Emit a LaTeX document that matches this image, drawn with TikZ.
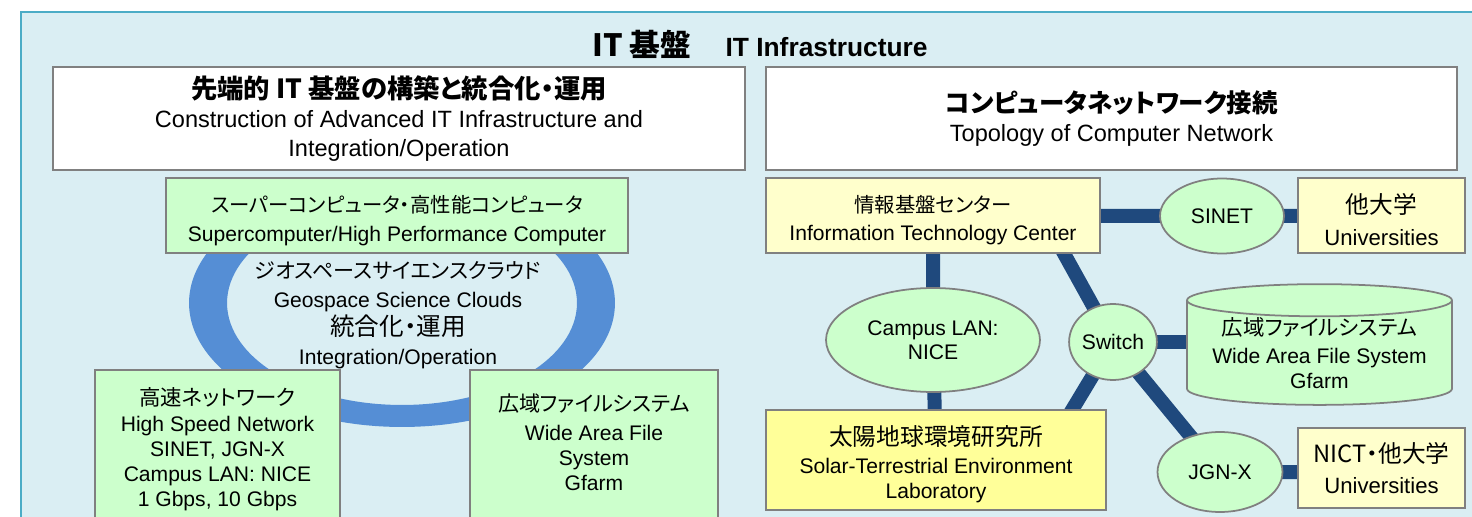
\documentclass[tikz,border=0pt]{standalone}
\usepackage{fontspec}
\setmainfont{Liberation Sans}
\newfontfamily\jp[RawFeature=+palt]{Noto Sans CJK JP}
\usepackage{tikz}
\usetikzlibrary{calc,shapes.geometric,backgrounds}

\definecolor{panelbg}{HTML}{DAEEF3}
\definecolor{panelline}{HTML}{4BACC6}
\definecolor{boxgreen}{HTML}{CCFFCC}
\definecolor{boxcream}{HTML}{FFFFCC}
\definecolor{boxyellow}{HTML}{FFFF99}
\definecolor{boxline}{HTML}{808080}
\definecolor{ringblue}{HTML}{558ED5}
\definecolor{linkblue}{HTML}{1F497D}

\newcommand{\fsz}[2]{\fontsize{#1}{#2}\selectfont}
\newcommand{\lowerby}[1]{\rule{0pt}{#1}}

\begin{document}
\begin{tikzpicture}[x=0.02cm,y=-0.02cm]
% Box style
\tikzset{
    box/.style={draw=boxline, line width=1pt, align=center, inner sep=0pt, font={\fsz{12}{14.2}}},
    wbox/.style={box, fill=white},
    gbox/.style={box, fill=boxgreen},
    ybox/.style={box, fill=boxcream},
    oval/.style={box, ellipse, fill=boxgreen},
    link/.style={linkblue, line width=0.28cm}
}
\useasboundingbox (0,0) rectangle (1472,517);
\clip (0,0) rectangle (1472,517);

% Title
\node (title) at (760,44) {\fsz{15}{18}\bfseries{\jp\fsz{17.5}{18}IT 基盤}\hspace{1.3em}IT Infrastructure};

% Left side
\node[wbox, minimum width=13.84cm, minimum height=2.06cm, font={\fsz{13.4}{16.4}}] (build) at (399,118.5)
    {{\jp\bfseries\fsz{15}{16.4}先端的 IT 基盤の構築と統合化・運用}\\Construction of Advanced IT Infrastructure and\\Integration/Operation};
\node[gbox, minimum width=9.24cm, minimum height=1.5cm] (super) at (397,215.5)
    {{\jp\fsz{11.6}{16}\lowerby{15.5pt}スーパーコンピュータ・高性能コンピュータ}\\[2.2pt]Supercomputer/High Performance Computer};
\node[align=center, font={\fsz{12}{16.3}}] (cloud) at (398,315)
    {{\jp\fsz{12}{16}ジオスペースサイエンスクラウド}\\Geospace Science Clouds\\{\jp\fsz{14}{16}統合化・運用}\\Integration/Operation};
\node[gbox, minimum width=4.9cm, minimum height=3.16cm] (net) at (217.5,449)
    {{\jp\fsz{12.2}{16}高速ネットワーク}\\[1pt]High Speed Network\\SINET, JGN-X\\Campus LAN: NICE\\1 Gbps, 10 Gbps};
\node[gbox, minimum width=4.96cm, minimum height=3.04cm, text depth=4.5pt] (wafs) at (594,446)
    {{\jp\fsz{12}{16}広域ファイルシステム}\\[2pt]Wide Area File\\System\\Gfarm};

% Right side
\node[wbox, minimum width=13.82cm, minimum height=2.06cm, font={\fsz{13.4}{17}}] (topo) at (1111.5,118.5)
    {{\jp\bfseries\fsz{14.5}{17}コンピュータネットワーク接続}\\Topology of Computer Network};
\node[ybox, minimum width=6.68cm, minimum height=1.5cm] (itc) at (933,215.5)
    {{\jp\fsz{11.6}{16}\lowerby{15pt}情報基盤センター}\\[1.7pt]Information Technology Center};
\node[oval, minimum width=2.48cm, minimum height=1.5cm] (sinet) at (1222,216) {SINET};
\node[ybox, minimum width=3.34cm, minimum height=1.5cm, font={\fsz{12.6}{14.2}}] (univ) at (1381.5,215.5)
    {{\jp\fsz{13.5}{16}\lowerby{16pt}他大学}\\[3.9pt]Universities};
\node[oval, minimum width=4.28cm, minimum height=2.08cm, font={\fsz{12}{13.6}}] (campus) at (933,340) {Campus LAN:\\NICE};
\node[oval, minimum width=1.68cm, minimum height=1.52cm] (switch) at (1113,342) {Switch};
\node[box, cylinder, shape border rotate=90, aspect=0.15, fill=boxgreen, minimum width=5.3cm, minimum height=2.3cm] (disk) at (1319.5,353)
    {{\jp\fsz{12.2}{16}広域ファイルシステム}\\[2pt]Wide Area File System\\Gfarm};
\node[box, fill=boxyellow, minimum width=6.8cm, minimum height=2cm] (stel) at (936,460)
    {{\jp\fsz{13.5}{16}\lowerby{16pt}太陽地球環境研究所}\\[2pt]Solar-Terrestrial Environment\\Laboratory};
\node[oval, minimum width=2.5cm, minimum height=1.6cm] (jgn) at (1220,472) {JGN-X};
\node[ybox, minimum width=3.34cm, minimum height=1.6cm, font={\fsz{12.6}{14.2}}] (nict) at (1381.5,468)
    {{\jp\fsz{13.5}{16}NICT・他大学}\\[3.9pt]Universities};

% Panel, ring and links
\begin{scope}[on background layer]
\fill[panelbg] (21,12) rectangle (1472,517);
\draw[panelline, line width=1.2pt] (21,517) -- (21,12) -- (1472,12);
\fill[ringblue, even odd rule] (402,303) ellipse [x radius=4.26cm, y radius=2.48cm]
    (402,303) ellipse [x radius=3.5cm, y radius=2.04cm];
\draw[link] (itc.center) -- (sinet.center) -- (univ.center);
\draw[link] (itc.center) -- (campus.center) -- (stel.center);
\draw[link] ($(itc.center)!0.655!(itc.east)$) -- (switch.center);
\draw[link] (switch.center) -- ($(stel.center)!0.62!(stel.east)$);
\draw[link] (switch.center) -- (switch.center -| disk.center);
\draw[link] (switch.center) -- (jgn.center) -- (jgn.center -| nict.center);
\end{scope}
\end{tikzpicture}
\end{document}
